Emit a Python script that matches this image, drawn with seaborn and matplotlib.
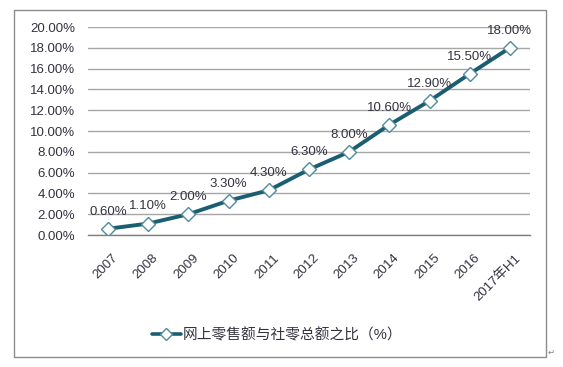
import matplotlib
matplotlib.use("Agg")
import matplotlib.pyplot as plt
import matplotlib.transforms as mtransforms
import seaborn as sns
import pandas as pd
from matplotlib.patches import Rectangle
from matplotlib.lines import Line2D

categories = ["2007", "2008", "2009", "2010", "2011", "2012", "2013", "2014", "2015", "2016", "2017年H1"]
values = [0.60, 1.10, 2.00, 3.30, 4.30, 6.30, 8.00, 10.60, 12.90, 15.50, 18.00]
y_ticks = [0, 2, 4, 6, 8, 10, 12, 14, 16, 18, 20]
series_name = "网上零售额与社零总额之比（%）"

sns.set_theme(style="white")
plt.rcParams['font.family'] = ['Liberation Sans', 'Noto Sans CJK SC', 'DejaVu Sans']

df = pd.DataFrame({"cat": categories, "val": values, "series": series_name})

W, H = 563, 367
fig = plt.figure(figsize=(W / 100, H / 100), dpi=100)
ax = fig.add_axes([88 / W, 1 - 235 / H, (530 - 88) / W, (235 - 27) / H])

line_color = "#1B5E72"
marker_edge = "#4E8CA0"
text_color = "#333340"

sns.lineplot(data=df, x="cat", y="val", hue="series", palette=[line_color], ax=ax,
             linewidth=2.8, marker="D", markersize=7, markerfacecolor="white",
             markeredgecolor=marker_edge, markeredgewidth=1.0, sort=False, legend=False)

ax.set_xlim(-0.5, len(categories) - 0.5)
ax.set_ylim(0, 20)
ax.set_yticks(y_ticks)
ax.set_yticklabels([f"{v:.2f}%" for v in y_ticks], fontsize=9.5, color=text_color)
ax.set_xticks(range(len(categories)))
ax.set_xticklabels(categories, rotation=45, ha="right", va="top", rotation_mode="anchor",
                   fontsize=9.5, color=text_color)
ax.tick_params(axis="x", length=0, pad=0)
ax.tick_params(axis="y", length=0, pad=9.4)
shift = mtransforms.ScaledTranslation(4 / 100, -17 / 100, fig.dpi_scale_trans)
for lab in ax.get_xticklabels():
    lab.set_transform(lab.get_transform() + shift)
ax.set_xlabel("")
ax.set_ylabel("")
ax.grid(axis="y", color="#A6A6A6", linewidth=1.0)
ax.set_axisbelow(True)
for s in ["top", "right", "left"]:
    ax.spines[s].set_visible(False)
ax.spines["bottom"].set_color("#808080")
ax.spines["bottom"].set_linewidth(1.0)

for i, v in enumerate(values):
    ax.annotate(f"{v:.2f}%", (i, v), xytext=(0, 8), textcoords="offset points",
                ha="center", va="bottom", fontsize=9.5, color=text_color)

# legend
handle = Line2D([], [], color=line_color, linewidth=2.6, marker="D", markersize=6,
                markerfacecolor="white", markeredgecolor=marker_edge, markeredgewidth=1.0)
fig.legend([handle], [series_name], loc="center", bbox_to_anchor=(277 / W, 1 - 335 / H),
           frameon=False, fontsize=10.6, handlelength=2.0, handletextpad=0.1,
           labelcolor=text_color, borderpad=0)

# outer border
fig.patches.append(Rectangle((14 / W, 1 - 357 / H), (546 - 14) / W, (357 - 10) / H,
                             transform=fig.transFigure, fill=False,
                             edgecolor="#8C8C8C", linewidth=1.0))
fig.text(548 / W, 1 - 352 / H, "↵", fontsize=6, color="#808080", family="DejaVu Sans",
         ha="left", va="center")

fig.savefig("out.png", dpi=100)
